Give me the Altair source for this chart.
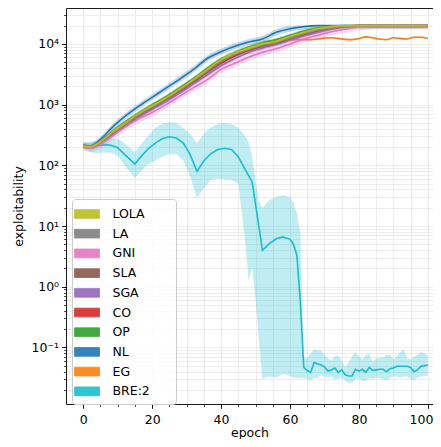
import altair as alt
import pandas as pd

# ---------------- data ----------------
SERIES = ["LOLA", "LA", "GNI", "SLA", "SGA", "CO", "OP", "NL", "EG", "BRE:2"]
COLORS = ["#bcbd22", "#7f7f7f", "#e377c2", "#8c564b", "#9467bd",
          "#d62728", "#2ca02c", "#1f77b4", "#ff7f0e", "#17becf"]

# rising methods (values given as log10 of exploitability)
EPOCHS_UP = [0, 2, 4, 6, 8, 12, 16, 20, 24, 28, 32, 36, 40, 44, 48, 52, 56, 60,
             64, 68, 72, 76, 80, 84, 88, 92, 96, 100]
NL_LOG = [2.33, 2.32, 2.38, 2.48, 2.60, 2.80, 2.97, 3.12, 3.27, 3.42, 3.58, 3.76, 3.87,
          3.96, 4.03, 4.08, 4.19, 4.25, 4.285, 4.30, 4.301, 4.301, 4.301, 4.301, 4.301,
          4.301, 4.301, 4.301]
LOLA_LOG = [2.32, 2.30, 2.35, 2.43, 2.53, 2.69, 2.85, 2.98, 3.11, 3.26, 3.41, 3.58, 3.74,
            3.85, 3.93, 4.00, 4.04, 4.12, 4.19, 4.25, 4.285, 4.30, 4.301, 4.301, 4.301,
            4.301, 4.301, 4.301]
OP_LOG = [2.31, 2.30, 2.36, 2.44, 2.54, 2.71, 2.86, 3.00, 3.13, 3.28, 3.43, 3.60, 3.75,
          3.86, 3.95, 4.02, 4.07, 4.14, 4.21, 4.26, 4.29, 4.30, 4.301, 4.301, 4.301,
          4.301, 4.301, 4.301]
LA_LOG = [2.32, 2.30, 2.34, 2.42, 2.51, 2.67, 2.83, 2.96, 3.09, 3.24, 3.39, 3.55, 3.71,
          3.83, 3.91, 3.98, 4.03, 4.10, 4.17, 4.23, 4.27, 4.295, 4.301, 4.301, 4.301,
          4.301, 4.301, 4.301]
SLA_LOG = [2.32, 2.30, 2.34, 2.42, 2.52, 2.68, 2.83, 2.96, 3.10, 3.24, 3.39, 3.56, 3.71,
           3.83, 3.91, 3.98, 4.03, 4.10, 4.17, 4.23, 4.27, 4.29, 4.30, 4.301, 4.301,
           4.301, 4.301, 4.301]
CO_LOG = [2.31, 2.29, 2.33, 2.41, 2.50, 2.66, 2.81, 2.94, 3.07, 3.22, 3.37, 3.53, 3.68,
          3.80, 3.89, 3.96, 4.01, 4.08, 4.15, 4.21, 4.26, 4.29, 4.30, 4.301, 4.301,
          4.301, 4.301, 4.301]
SGA_LOG = [2.31, 2.29, 2.33, 2.40, 2.49, 2.64, 2.79, 2.92, 3.05, 3.19, 3.34, 3.49, 3.64,
           3.76, 3.86, 3.93, 3.99, 4.06, 4.13, 4.19, 4.24, 4.28, 4.295, 4.301, 4.301,
           4.301, 4.301, 4.301]
GNI_LOG = [2.30, 2.28, 2.31, 2.38, 2.46, 2.62, 2.76, 2.87, 3.00, 3.14, 3.28, 3.41, 3.58,
           3.68, 3.78, 3.86, 3.92, 4.00, 4.08, 4.14, 4.20, 4.24, 4.28, 4.30, 4.301,
           4.301, 4.301, 4.301]

EG_EPOCHS = [0, 2, 4, 6, 8, 12, 16, 20, 24, 28, 32, 36, 40, 44, 48, 52, 56,
             58, 60, 62, 64, 66, 68, 70, 72, 74, 76, 78, 80, 82, 84, 86, 88, 90,
             92, 94, 96, 98, 100]
EG_LOG = [2.32, 2.30, 2.35, 2.43, 2.52, 2.68, 2.84, 2.97, 3.10, 3.25, 3.40, 3.57, 3.72,
          3.84, 3.92, 3.99, 4.03,
          4.05, 4.06, 4.07, 4.07, 4.07, 4.08, 4.095, 4.10, 4.09, 4.075, 4.07, 4.09,
          4.115, 4.10, 4.08, 4.07, 4.10, 4.09, 4.08, 4.11, 4.11, 4.09]

# band half-widths (log10) of the rising methods
SPREAD = {"NL": 0.05, "LOLA": 0.035, "OP": 0.03, "LA": 0.03, "SLA": 0.03,
          "CO": 0.03, "SGA": 0.03, "GNI": 0.06, "EG": 0.012}

# BRE:2 mean and band (log10)
BRE_EPOCHS = [0, 2, 4, 6, 8, 10, 12, 15, 17, 19, 21, 23, 25, 27, 29, 31, 33, 35, 37,
              39, 41, 43, 45, 47, 48, 49, 50, 51, 52, 54, 56, 58, 60, 61, 62, 63, 64,
              65, 66, 67, 68, 69, 70, 71, 72, 73, 74, 75, 76, 77, 78, 79, 80, 81, 82,
              83, 84, 85, 86, 87, 88, 89, 90, 91, 92, 93, 94, 95, 96, 97, 98, 99, 100]
BRE_LOG = [2.33, 2.31, 2.32, 2.34, 2.33, 2.29, 2.18, 2.02, 2.16, 2.28, 2.37, 2.44, 2.47,
           2.45, 2.37, 2.18, 1.90, 2.07, 2.19, 2.26, 2.28, 2.26, 2.14, 1.93, 1.83, 1.73,
           1.36, 0.98, 0.60, 0.71, 0.79, 0.82, 0.78, 0.70, 0.52, -0.25, -1.33,
           -1.38, -1.41, -1.25, -1.27, -1.29, -1.32, -1.39, -1.37, -1.34, -1.41, -1.37,
           -1.45, -1.47, -1.47, -1.36, -1.39, -1.36, -1.41, -1.33, -1.38, -1.37, -1.36,
           -1.36, -1.40, -1.35, -1.34, -1.31, -1.31, -1.31, -1.31, -1.33, -1.40, -1.37,
           -1.31, -1.30, -1.29]
BRE_LO_LOG = [2.28, 2.22, 2.20, 2.21, 2.21, 2.16, 2.00, 1.79, 1.92, 2.02, 2.08, 2.14, 2.18,
              2.18, 2.08, 1.82, 1.46, 1.62, 1.76, 1.78, 1.77, 1.76, 1.70, 0.75, 0.10, 0.32,
              -0.20, -0.90, -1.52, -1.48, -1.50, -1.43, -1.47, -1.50, -1.50, -1.50, -1.50,
              -1.52, -1.54, -1.50, -1.50, -1.45, -1.48, -1.50, -1.48, -1.53, -1.52, -1.50,
              -1.55, -1.58, -1.58, -1.52, -1.52, -1.55, -1.55, -1.50, -1.52, -1.50, -1.50,
              -1.52, -1.55, -1.50, -1.48, -1.48, -1.50, -1.48, -1.48, -1.52, -1.55, -1.50,
              -1.48, -1.47, -1.47]
BRE_HI_LOG = [2.38, 2.38, 2.40, 2.43, 2.44, 2.44, 2.36, 2.22, 2.36, 2.50, 2.62, 2.69, 2.71,
              2.70, 2.62, 2.52, 2.36, 2.52, 2.62, 2.68, 2.70, 2.68, 2.62, 2.48, 2.38, 2.15,
              1.75, 1.40, 1.30, 1.43, 1.48, 1.51, 1.47, 1.38, 1.22, 0.89, -1.16,
              -1.18, -1.10, -1.03, -1.05, -1.05, -1.12, -1.18, -1.22, -1.14, -1.13, -1.22,
              -1.32, -1.25, -1.15, -1.08, -1.15, -1.20, -1.12, -1.10, -1.25, -1.18, -1.17,
              -1.17, -1.12, -1.12, -1.20, -1.15, -1.08, -1.03, -1.18, -1.20, -1.15, -1.12,
              -1.08, -1.10, -1.13]

X_MAJOR = [0, 20, 40, 60, 80, 100]
Y_MAJOR = [0.1, 1, 10, 100, 1000, 10000]
Y_EXP = [-1, 0, 1, 2, 3, 4]
Y_LABELS = ["10⁻¹", "10⁰", "10¹", "10²", "10³", "10⁴"]
CAP = 20000

# ---------------- build table ----------------
rows = []
rising = {"NL": NL_LOG, "LOLA": LOLA_LOG, "OP": OP_LOG, "LA": LA_LOG, "SLA": SLA_LOG,
          "CO": CO_LOG, "SGA": SGA_LOG, "GNI": GNI_LOG}
for name, vals in rising.items():
    s = SPREAD[name]
    for e, v in zip(EPOCHS_UP, vals):
        rows.append(dict(series=name, epoch=e, value=10 ** v,
                         lo=10 ** (v - s), hi=min(10 ** (v + s), CAP)))
for e, v in zip(EG_EPOCHS, EG_LOG):
    s = SPREAD["EG"]
    rows.append(dict(series="EG", epoch=e, value=10 ** v,
                     lo=10 ** (v - s), hi=min(10 ** (v + s), CAP)))
for e, v, lo, hi in zip(BRE_EPOCHS, BRE_LOG, BRE_LO_LOG, BRE_HI_LOG):
    rows.append(dict(series="BRE:2", epoch=e, value=10 ** v, lo=10 ** lo, hi=10 ** hi))
df = pd.DataFrame(rows)

# ---------------- scales / axes ----------------
FONT = "DejaVu Sans"
FS = 12.5
xs = alt.Scale(domain=[-5, 101.5], nice=False, zero=False)
ys = alt.Scale(type="log", domain=[0.0117, 39000], nice=False)
cs = alt.Scale(domain=SERIES, range=COLORS)

x_minor = list(range(0, 101, 5))
y_minor = []
for k in range(-2, 5):
    for m in range(1, 10):
        v = m * 10 ** k
        if 0.0117 <= v <= 39000:
            y_minor.append(v)

label_expr = ""
for ex, lab in zip(Y_EXP, Y_LABELS):
    label_expr += f"abs(log(datum.value)/LN10 - ({ex})) < 0.01 ? '{lab}' : "
label_expr += "''"

major_x_axis = alt.Axis(values=X_MAJOR, orient="bottom", grid=False,
                        domain=True, domainColor="black", domainWidth=0.9,
                        tickSize=4.4, tickColor="black", tickWidth=0.9,
                        labelFontSize=FS, labelFont=FONT, labelColor="black",
                        labelFlush=6, labelFlushOffset=5,
                        labelPadding=5, title="epoch", titleFont=FONT,
                        titleFontSize=FS, titleFontWeight="normal",
                        titleColor="black", titlePadding=1)
major_y_axis = alt.Axis(values=Y_MAJOR, orient="left", grid=False,
                        domain=True, domainColor="black", domainWidth=0.9,
                        tickSize=4.4, tickColor="black", tickWidth=0.9,
                        labelExpr=label_expr, labelFontSize=FS, labelFont=FONT,
                        labelColor="black", labelPadding=3, title="exploitability",
                        titleFont=FONT, titleFontSize=FS, titleFontWeight="normal",
                        titleColor="black", titlePadding=6)
minor_x_axis = alt.Axis(values=x_minor, orient="bottom", grid=True, domain=False,
                        labels=False, tickSize=2.5, tickColor="black", tickWidth=0.7,
                        gridColor="#e8e8e8", gridWidth=0.8, title=None)
minor_y_axis = alt.Axis(values=y_minor, orient="left", grid=True, domain=False,
                        labels=False, tickSize=2.5, tickColor="black", tickWidth=0.7,
                        gridColor="#e8e8e8", gridWidth=0.8, title=None)
top_axis = alt.Axis(orient="top", domain=True, domainColor="black", domainWidth=0.9,
                    ticks=False, labels=False, grid=False, title=None)

bre = df[df.series == "BRE:2"]
axis_layers = [
    alt.Chart(bre).mark_point(opacity=0).encode(
        x=alt.X("epoch:Q", scale=xs, axis=minor_x_axis),
        y=alt.Y("value:Q", scale=ys, axis=minor_y_axis)),
    alt.Chart(bre).mark_point(opacity=0).encode(
        x=alt.X("epoch:Q", scale=xs, axis=major_x_axis),
        y=alt.Y("value:Q", scale=ys, axis=major_y_axis)),
    alt.Chart(bre).mark_point(opacity=0).encode(
        x=alt.X("epoch:Q", scale=xs, axis=top_axis),
        y=alt.Y("value:Q", scale=ys, axis=None)),
]

# swatch 25 x 8.75 px drawn with symbol size 324 (scale 9 px per unit)
legend = alt.Legend(title=None, orient="none", legendX=6, legendY=191,
                    symbolType="M-1.389,-0.486L1.389,-0.486L1.389,0.486L-1.389,0.486Z M9.0,0",
                    symbolSize=324, symbolOpacity=0.9, symbolStrokeWidth=0.8,
                    labelFont=FONT, labelFontSize=FS, labelColor="black",
                    labelOffset=16, rowPadding=3.7, padding=5.5,
                    fillColor="rgba(255,255,255,0.8)", strokeColor="#cccccc",
                    cornerRadius=3)

DRAW_ORDER = ["BRE:2", "EG", "NL", "OP", "CO", "SGA", "SLA", "GNI", "LA", "LOLA"]
data_layers = []
for i, name in enumerate(DRAW_ORDER):
    d = df[df.series == name]
    interp = "linear" if name == "BRE:2" else "monotone"
    band = alt.Chart(d).mark_area(opacity=0.27, interpolate=interp).encode(
        x=alt.X("epoch:Q", scale=xs, axis=None),
        y=alt.Y("lo:Q", scale=ys, axis=None),
        y2="hi:Q",
        color=alt.Color("series:N", scale=cs, legend=legend if i == 0 else None))
    line = alt.Chart(d).mark_line(strokeWidth=1.6, interpolate=interp).encode(
        x=alt.X("epoch:Q", scale=xs, axis=None),
        y=alt.Y("value:Q", scale=ys, axis=None),
        color=alt.Color("series:N", scale=cs, legend=None))
    data_layers += [band, line]

chart = alt.layer(*axis_layers, *data_layers).resolve_axis(
    x="independent", y="independent"
).properties(
    width=367, height=396, autosize="none",
    padding={"left": 58, "top": 0, "right": 0, "bottom": 35},
).configure_view(stroke=None)

chart.save("out.html", embed_options={"renderer": "svg", "actions": False})
